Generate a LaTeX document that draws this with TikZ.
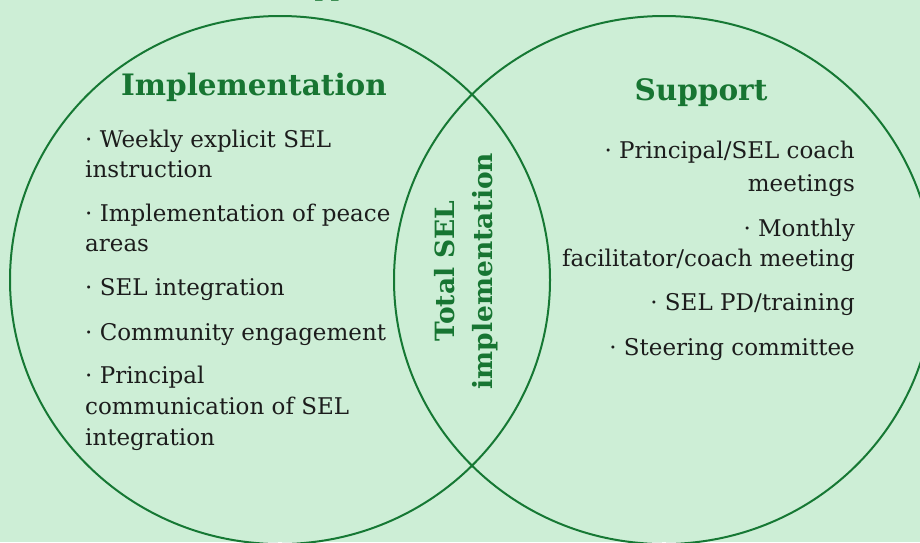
\documentclass[tikz,border=0pt]{standalone}
\usepackage{fontspec}
\setmainfont{DejaVu Serif}
\usetikzlibrary{shapes.geometric}

\definecolor{paper}{RGB}{205,238,214}
\definecolor{ring}{RGB}{22,120,52}
\definecolor{heading}{RGB}{23,117,50}
\definecolor{body}{RGB}{28,28,28}

\tikzset{
  circleset/.style={ellipse, draw=ring, line width=2pt, inner sep=0pt,
    minimum width=540pt, minimum height=528pt},
  title/.style={inner sep=0pt, text=heading, font=\bfseries\fontsize{29.5}{34}\selectfont},
  itemL/.style={inner sep=0pt, anchor=base west, text=body, font=\fontsize{23}{30}\selectfont},
  itemR/.style={inner sep=0pt, anchor=base east, text=body, font=\fontsize{23}{30}\selectfont},
  overlap/.style={inner sep=0pt, align=center, rotate=90, text=heading,
    font=\bfseries\fontsize{26.5}{38}\selectfont}
}

\begin{document}
\begin{tikzpicture}[x=1pt, y=-1pt]
  \useasboundingbox (0,0) rectangle (920,542);
  \clip (0,0) rectangle (920,542);
  \fill[paper] (0,0) rectangle (920,542);

  % heading of the page, mostly above the top edge
  \node[title, anchor=base west, font=\bfseries\fontsize{23}{28}\selectfont] (pagehead) at (281,-3.5) {Support};

  % the two sets
  \node[circleset] (implset) at (280,280) {};
  \node[circleset] (suppset) at (664,280) {};

  % set headings
  \node[title, anchor=base] (implhead) at (254,95) {Implementation};
  \node[title, anchor=base] (supphead) at (701,100) {Support};

  % implementation items
  \node[itemL] (l1) at (85,147) {· Weekly explicit SEL};
  \node[itemL] (l2) at (85,177) {instruction};
  \node[itemL] (l3) at (85,221) {· Implementation of peace};
  \node[itemL] (l4) at (85,251) {areas};
  \node[itemL] (l5) at (85,295) {· SEL integration};
  \node[itemL] (l6) at (85,340) {· Community engagement};
  \node[itemL] (l7) at (85,383) {· Principal};
  \node[itemL] (l8) at (85,414) {communication of SEL};
  \node[itemL] (l9) at (85,445) {integration};

  % support items
  \node[itemR] (r1) at (855,158) {· Principal/SEL coach};
  \node[itemR] (r2) at (855,191) {meetings};
  \node[itemR] (r3) at (855,236) {· Monthly};
  \node[itemR] (r4) at (855,266) {facilitator/coach meeting};
  \node[itemR] (r5) at (855,310) {· SEL PD/training};
  \node[itemR] (r6) at (855,355) {· Steering committee};

  % overlap label
  \node[overlap] (both) at (466,271) {Total SEL\\implementation};
\end{tikzpicture}
\end{document}
